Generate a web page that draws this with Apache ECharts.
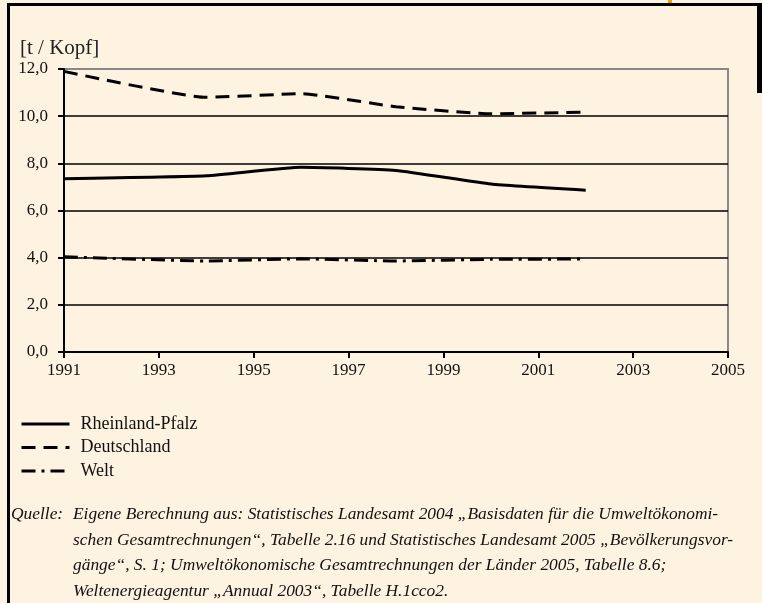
<!DOCTYPE html>
<html>
<head>
<meta charset="utf-8">
<script src="https://cdn.jsdelivr.net/npm/echarts@6/dist/echarts.min.js"></script>
<style>
html,body{margin:0;padding:0;background:#FEF2E1;}
#c{width:762px;height:603px;}
</style>
</head>
<body>
<div id="c"></div>
<script>
var years = ['1991','1992','1993','1994','1995','1996','1997','1998','1999','2000','2001','2002','2003','2004','2005'];
var yTicks = [0, 2, 4, 6, 8, 10, 12];
var dataYears = ['1991','1994','1996','1998','2000','2002'];
var rheinlandPfalz = [7.35, 7.47, 7.83, 7.70, 7.12, 6.86];
var deutschland = [11.9, 10.8, 10.95, 10.4, 10.1, 10.17];
var welt = [4.04, 3.86, 3.95, 3.86, 3.93, 3.94];
var seriesNames = ['Rheinland-Pfalz', 'Deutschland', 'Welt'];
var unitLabel = '[t / Kopf]';
var sourceLines = [
  'Eigene Berechnung aus: Statistisches Landesamt 2004 „Basisdaten für die Umweltökonomi-',
  'schen Gesamtrechnungen“, Tabelle 2.16 und Statistisches Landesamt 2005 „Bevölkerungsvor-',
  'gänge“, S. 1; Umweltökonomische Gesamtrechnungen der Länder 2005, Tabelle 8.6;',
  'Weltenergieagentur „Annual 2003“, Tabelle H.1cco2.'
];

function pairs(vals){ return dataYears.map(function(y,i){ return [y, vals[i]]; }); }

var FONT = '"Liberation Serif", "DejaVu Serif", serif';
var chart = echarts.init(document.getElementById('c'), null, {renderer:'canvas'});

var graphics = [
  {type:'rect', shape:{x:7,y:3,width:755,height:3}, style:{fill:'#000'}},
  {type:'rect', shape:{x:7,y:3,width:3,height:600}, style:{fill:'#000'}},
  {type:'rect', shape:{x:757,y:3,width:5,height:90}, style:{fill:'#000'}},
  {type:'rect', shape:{x:668,y:0,width:4,height:3}, style:{fill:'#F5A000'}},
  {type:'text', left:11, top:506, style:{text:'Quelle:', font:'italic 17.4px ' + FONT, fill:'#111'}}
];
sourceLines.forEach(function(t,i){
  graphics.push({type:'text', left:73, top:506 + i*25.5, style:{text:t, font:'italic 17.4px ' + FONT, fill:'#111'}});
});

chart.setOption({
  backgroundColor:'#FEF2E1',
  animation:false,
  title:{text:unitLabel, left:15, top:33, textStyle:{fontFamily:FONT, fontSize:21, fontWeight:'normal', color:'#222'}},
  grid:{left:64, right:34, top:69, bottom:251, show:true, borderColor:'#888', borderWidth:2, backgroundColor:'transparent'},
  legend:{
    orient:'vertical', left:15, top:410, itemWidth:48, itemHeight:14, itemGap:5.5,
    data:seriesNames,
    itemStyle:{opacity:0},
    lineStyle:{width:3},
    textStyle:{fontFamily:FONT, fontSize:18, color:'#111', padding:[0,0,0,6]}
  },
  xAxis:{
    type:'category', data:years, boundaryGap:false,
    axisLine:{lineStyle:{color:'#000', width:2}},
    axisTick:{show:true, interval:1, length:6, lineStyle:{color:'#000', width:2}},
    axisLabel:{interval:1, margin:10, fontFamily:FONT, fontSize:17, color:'#111'},
    splitLine:{show:false}
  },
  yAxis:{
    type:'value', min:0, max:12, interval:2,
    axisLine:{show:true, lineStyle:{color:'#000', width:2}},
    axisTick:{show:true, length:6, lineStyle:{color:'#000', width:2}},
    axisLabel:{margin:16, fontFamily:FONT, fontSize:17, color:'#111',
      formatter:function(v){ return v.toFixed(1).replace('.', ','); }},
    splitLine:{show:true, showMaxLine:false, lineStyle:{color:'#000', width:1.5}}
  },
  series:[
    {name:seriesNames[0], type:'line', data:pairs(rheinlandPfalz), smooth:0.15, symbol:'none',
     lineStyle:{color:'#000', width:3, type:'solid'}, itemStyle:{color:'#000'}},
    {name:seriesNames[1], type:'line', data:pairs(deutschland), smooth:0.15, symbol:'none',
     lineStyle:{color:'#000', width:3, type:[14,8]}, itemStyle:{color:'#000'}},
    {name:seriesNames[2], type:'line', data:pairs(welt), smooth:0.15, symbol:'none',
     lineStyle:{color:'#000', width:3, type:[14,6,3,6]}, itemStyle:{color:'#000'}}
  ],
  graphic:graphics
});
</script>
</body>
</html>
